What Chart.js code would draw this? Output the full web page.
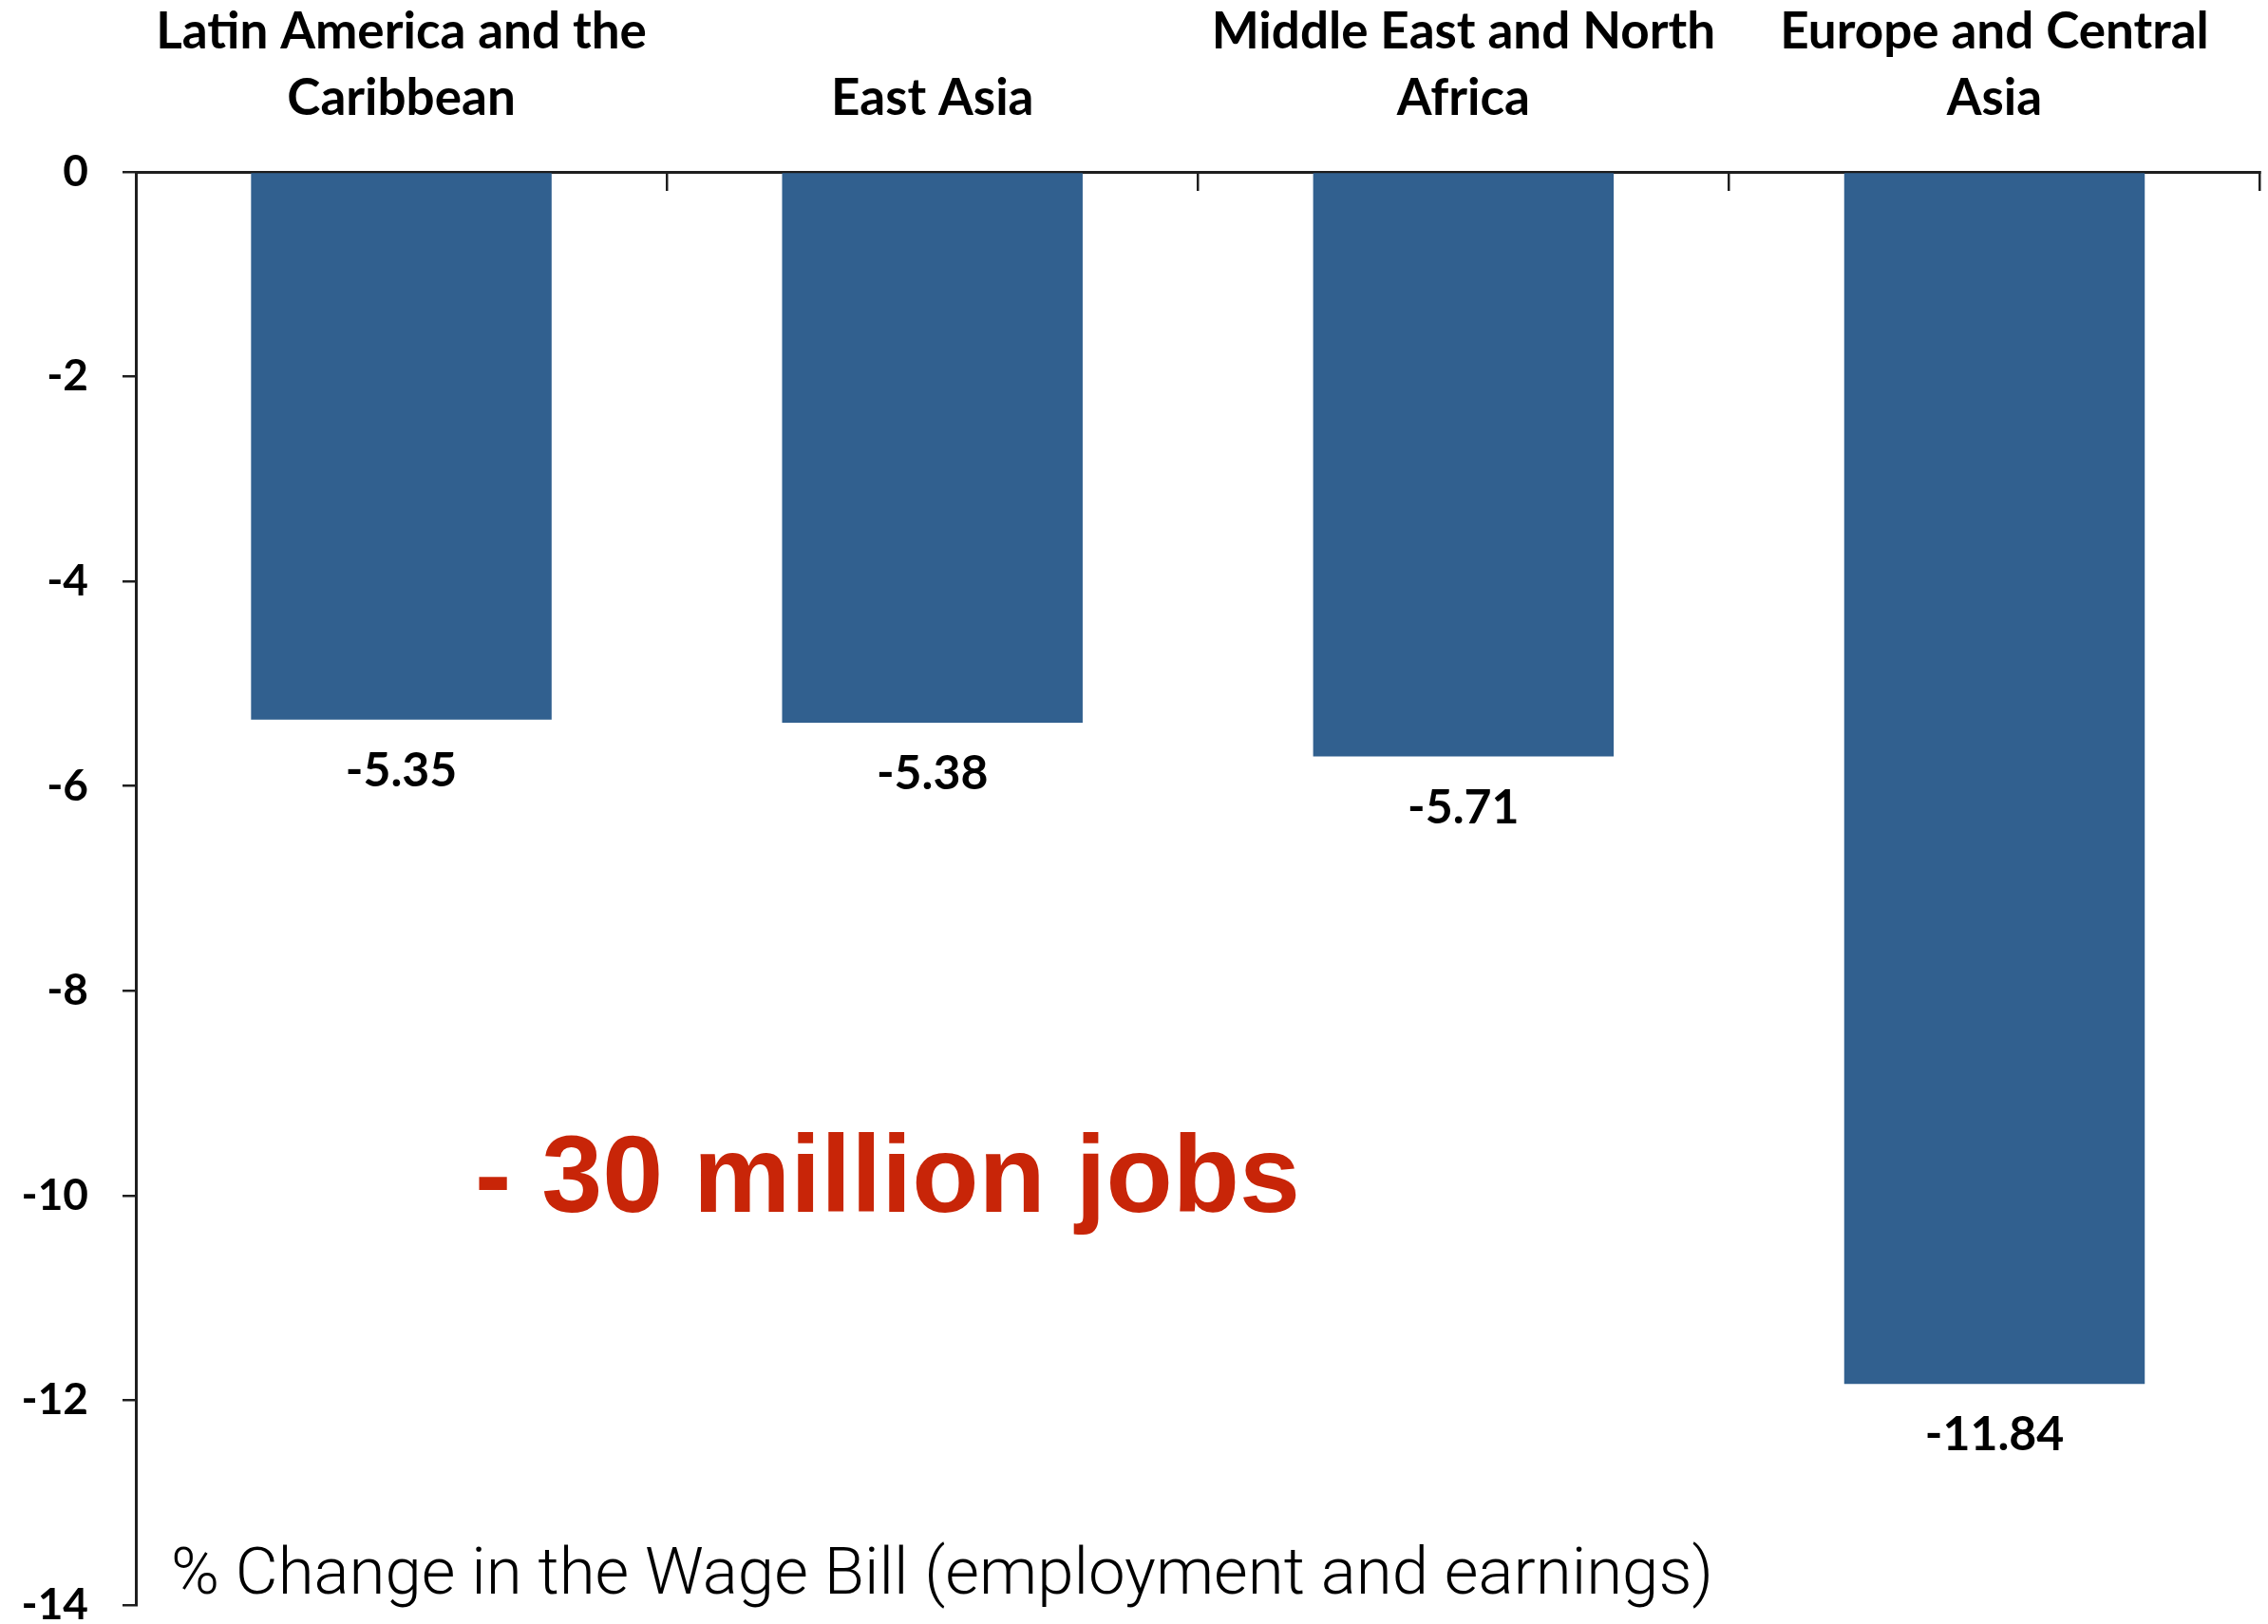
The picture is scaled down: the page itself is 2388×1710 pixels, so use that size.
<!DOCTYPE html>
<html>
<head>
<meta charset="utf-8">
<script src="https://cdn.jsdelivr.net/npm/chart.js@4.4.1/dist/chart.umd.min.js"></script>
<style>
  html, body { margin: 0; padding: 0; background: #fff; }
  #wrap { width: 2388px; height: 1710px; }
</style>
</head>
<body>
<div id="wrap"><canvas id="chart-wage"></canvas></div>
<script>
// Variação % da massa salarial por região
const regioes = [
  ["Latin America and the", "Caribbean"],
  "East Asia",
  ["Middle East and North", "Africa"],
  ["Europe and Central", "Asia"],
];
const variacao = [-5.35, -5.38, -5.71, -11.84];
const yTicks = [0, -2, -4, -6, -8, -10, -12, -14];

const corBarra = "#31608f";
const corEixo = "#1e1e1e";
const fonteRotulo = "Lato, 'Open Sans', sans-serif";

// valores escritos abaixo de cada barra + textos soltos
const anotacoes = {
  id: "anotacoes",
  afterDatasetsDraw(chart) {
    const { ctx, chartArea } = chart;
    const meta = chart.getDatasetMeta(0);
    ctx.save();
    ctx.fillStyle = "#000";
    ctx.font = "bold 50px " + fonteRotulo;
    ctx.textAlign = "center";
    ctx.textBaseline = "middle";
    meta.data.forEach((bar, i) => {
      ctx.fillText(variacao[i].toFixed(2), bar.x, bar.y + 54);
    });

    ctx.textAlign = "left";
    ctx.textBaseline = "alphabetic";
    ctx.fillStyle = "#c82508";
    ctx.font = "bold 115px 'Liberation Sans', Arial, sans-serif";
    ctx.fillText("- 30 million jobs", chartArea.left + 357, 1276);

    ctx.fillStyle = "#000";
    ctx.font = "300 69px Roboto, 'Liberation Sans', sans-serif";
    ctx.fillText("% Change in the Wage Bill (employment and earnings)", chartArea.left + 37, 1678);
    ctx.restore();
  },
};

const ctx_bar = document.getElementById("chart-wage").getContext("2d");
new Chart(ctx_bar, {
  type: "bar",
  data: {
    labels: regioes,
    datasets: [
      {
        data: variacao,
        backgroundColor: corBarra,
        borderWidth: 0,
        barPercentage: 0.566,
        categoryPercentage: 1,
      },
    ],
  },
  options: {
    responsive: true,
    maintainAspectRatio: false,
    animation: false,
    layout: { padding: { top: 0, left: 0, right: 2, bottom: 20 } },
    plugins: {
      legend: { display: false },
      tooltip: { enabled: false },
    },
    scales: {
      x: {
        position: "top",
        offset: true,
        afterFit: (scale) => { scale.height = 181; },
        grid: {
          offset: true,
          drawOnChartArea: false,
          drawTicks: true,
          tickLength: -20,
          color: corEixo,
          lineWidth: 2.5,
        },
        border: { color: corEixo, width: 3 },
        ticks: {
          color: "#000",
          padding: 62,
          maxRotation: 0,
          autoSkip: false,
          font: { family: fonteRotulo, weight: "bold", size: 53, lineHeight: "70px" },
        },
      },
      y: {
        min: -14,
        max: 0,
        afterFit: (scale) => {
          scale.width = 143;
          scale.paddingTop = 0;
          scale.paddingBottom = 0;
        },
        afterBuildTicks: (scale) => {
          scale.ticks = yTicks.map((v) => ({ value: v }));
        },
        grid: {
          drawOnChartArea: false,
          drawTicks: true,
          tickLength: 14,
          color: corEixo,
          lineWidth: 2.5,
        },
        border: { color: corEixo, width: 3 },
        ticks: {
          color: "#000",
          padding: 36,
          font: { family: fonteRotulo, weight: "bold", size: 46 },
        },
      },
    },
  },
  plugins: [anotacoes],
});
</script>
</body>
</html>
